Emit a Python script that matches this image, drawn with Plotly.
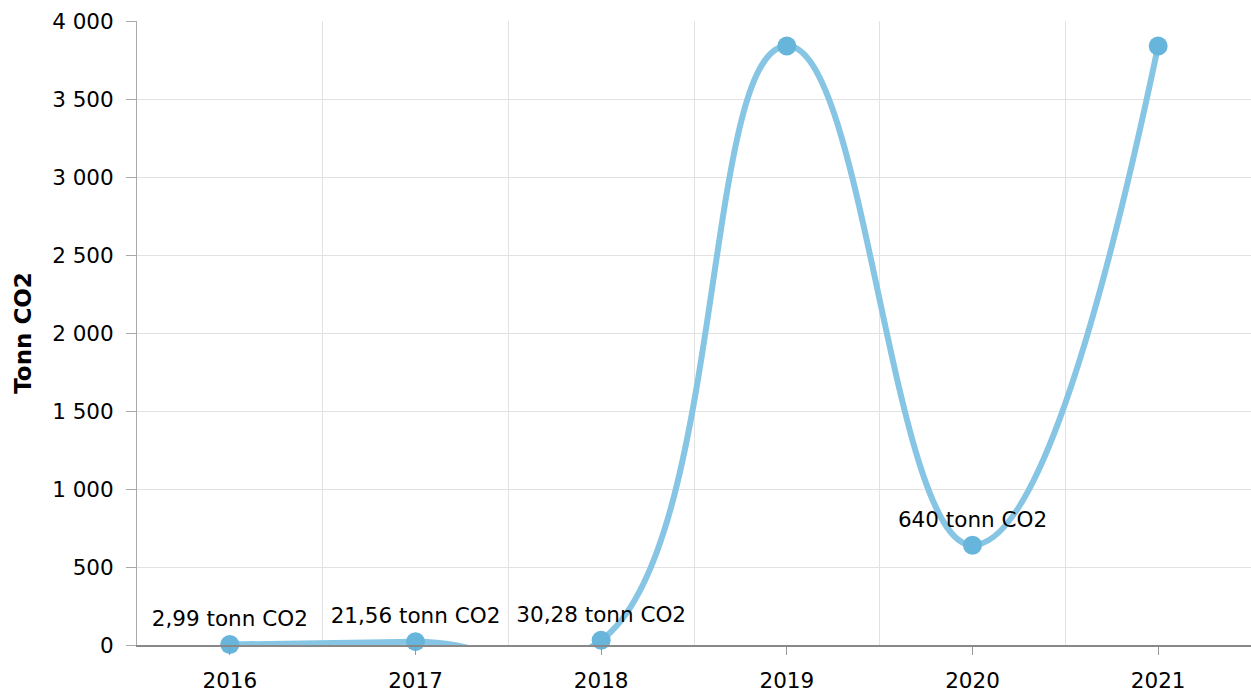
"""
Tonn CO2 per år - linjediagram med Plotly
"""
import plotly.graph_objects as go

# data
years = ['2016', '2017', '2018', '2019', '2020', '2021']
values = [2.99, 21.56, 30.28, 3840, 640, 3840]
labels = ['2,99 tonn CO2', '21,56 tonn CO2', '30,28 tonn CO2', '', '640 tonn CO2', '']
y_ticks = [0, 500, 1000, 1500, 2000, 2500, 3000, 3500, 4000]

FONT = 'DejaVu Sans, Verdana, sans-serif'
x_pos = list(range(len(years)))

fig = go.Figure()

fig.add_trace(go.Scatter(
    x=x_pos,
    y=values,
    mode='lines+markers+text',
    text=labels,
    textposition='top center',
    textfont=dict(size=21.5, color='#000000', family=FONT),
    line=dict(color='#87c5e4', width=6, shape='spline', smoothing=1.3),
    marker=dict(color='#68b5dc', size=19),
    cliponaxis=False,
    hoverinfo='x+y',
    showlegend=False
))

fig.update_layout(
    width=1251,
    height=692,
    margin=dict(l=137, r=0, t=21, b=47),
    paper_bgcolor='white',
    plot_bgcolor='white',
    separators=', ',
    font=dict(family=FONT, size=21.5, color='#000000'),
    xaxis=dict(
        range=[-0.5, 5.5],
        tickvals=x_pos,
        ticktext=years,
        showgrid=False,
        ticks='outside',
        ticklen=8,
        tickcolor='#999999',
        ticklabelstandoff=7,
        showline=True,
        linecolor='#888888',
        linewidth=1.5,
        zeroline=False,
        tickfont=dict(size=21.5),
        minor=dict(
            tickvals=[i - 0.5 for i in x_pos] + [5.5],
            showgrid=True,
            gridcolor='#e2e2e2',
            gridwidth=1,
            ticks='',
        ),
    ),
    yaxis=dict(
        range=[0, 4000],
        tickvals=y_ticks,
        tickformat=',d',
        showgrid=True,
        gridcolor='#e2e2e2',
        ticks='outside',
        ticklen=10,
        tickcolor='#aaaaaa',
        ticklabelstandoff=8,
        showline=True,
        linecolor='#aaaaaa',
        zeroline=False,
        tickfont=dict(size=21.5),
        title=dict(text='<b>Tonn CO2</b>', font=dict(size=23), standoff=14),
    ),
)

# siden skal ikke ha marg rundt figuren
fig.write_html('out.html', config={'displayModeBar': False},
               post_script="document.body.style.margin='0px';")
